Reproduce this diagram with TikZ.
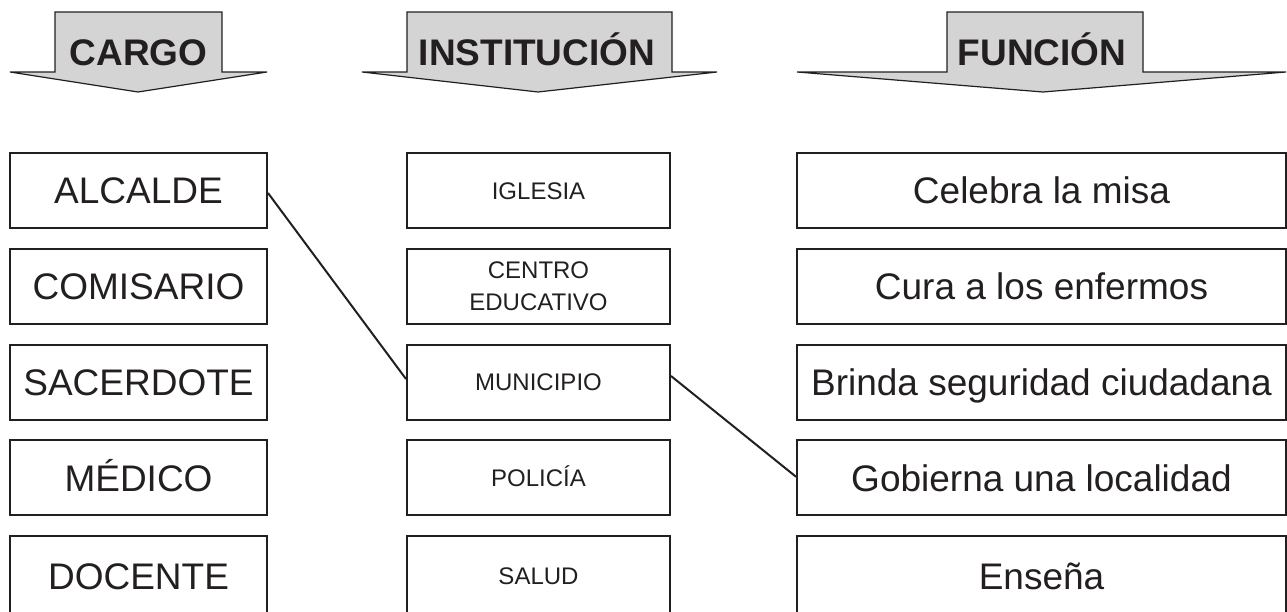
\documentclass[tikz,border=0pt]{standalone}
\usepackage{fontspec}
\setmainfont{Liberation Sans}
\usetikzlibrary{positioning}
\definecolor{headGray}{HTML}{D4D4D4}
\definecolor{inkBlack}{HTML}{231F20}

\begin{document}
\begin{tikzpicture}[x=1pt, y=-1pt, node distance=18.75pt,
          head/.style={draw=inkBlack, line width=1.2pt, fill=headGray, line join=miter},
          title/.style={anchor=base, inner sep=0pt, text=inkBlack, font=\fontsize{37}{44}\selectfont\bfseries},
          wordbox/.style={draw=inkBlack, line width=2pt, minimum width=257pt, minimum height=75pt, inner sep=0pt, text=inkBlack, font=\fontsize{37}{44}\selectfont, text height=26.5pt, text depth=0pt},
          placebox/.style={wordbox, minimum width=263pt, font=\fontsize{24}{32}\selectfont, text height=17.2pt},
          taskbox/.style={wordbox, minimum width=489pt},
          lastrow/.style={minimum height=80pt},
          link/.style={draw=inkBlack, line width=2pt}]
        \useasboundingbox (0,0) rectangle (1287,611);
        % headers
        \draw[head] (55,12) -- (222,12) -- (222,72) -- (267,72) -- (138,92) -- (10,72) -- (55,72) -- cycle;
        \draw[head] (407,12) -- (672,12) -- (672,72) -- (717,72) -- (538,92) -- (362,72) -- (407,72) -- cycle;
        \draw[head] (947,12) -- (1143,12) -- (1143,72) -- (1286,72) -- (1043,92) -- (797,72) -- (947,72) -- cycle;
        \node[title] (cargo) at (138.5,65) {CARGO};
        \node[title] (institucion) at (537,65) {INSTITUCIÓN};
        \node[title] (funcion) at (1042,65) {FUNCIÓN};
        % cargo column
        \node[wordbox] (alcalde) at (138.5,190.5) {ALCALDE};
        \node[wordbox, below=of alcalde] (comisario) {COMISARIO};
        \node[wordbox, below=of comisario] (sacerdote) {SACERDOTE};
        \node[wordbox, below=of sacerdote] (medico) {MÉDICO};
        \node[wordbox, lastrow, below=of medico] (docente) {DOCENTE};
        % institucion column
        \node[placebox] (iglesia) at (538.5,190.5) {IGLESIA};
        \node[placebox, below=of iglesia, text height=, text depth=, align=center] (centro) {CENTRO\\EDUCATIVO};
        \node[placebox, below=of centro] (municipio) {MUNICIPIO};
        \node[placebox, below=of municipio] (policia) {POLICÍA};
        \node[placebox, lastrow, below=of policia] (salud) {SALUD};
        % funcion column
        \node[taskbox] (misa) at (1041.5,190.5) {Celebra la misa};
        \node[taskbox, below=of misa] (enfermos) {Cura a los enfermos};
        \node[taskbox, below=of enfermos] (seguridad) {Brinda seguridad ciudadana};
        \node[taskbox, below=of seguridad] (gobierna) {Gobierna una localidad};
        \node[taskbox, lastrow, below=of gobierna] (ensena) {Enseña};
        % answers
        \draw[link] ([yshift=-2.5pt]alcalde.east) -- ([yshift=3pt]municipio.west);
        \draw[link] ([yshift=6pt]municipio.east) -- ([yshift=1pt]gobierna.west);
      \end{tikzpicture}
\end{document}
